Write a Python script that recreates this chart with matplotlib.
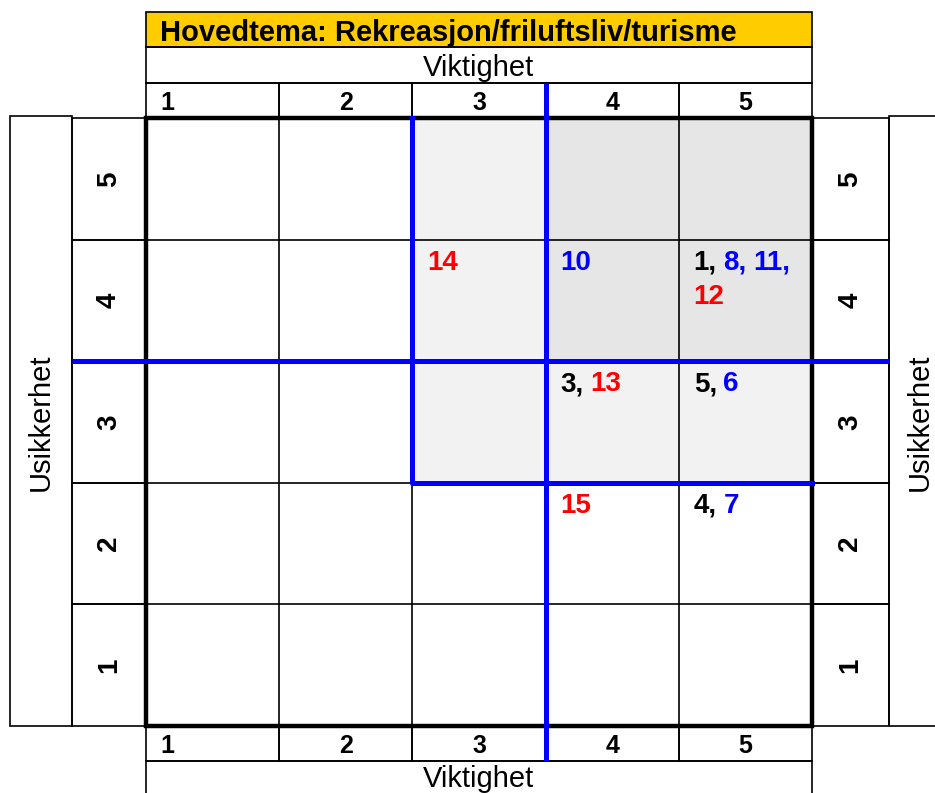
import matplotlib
matplotlib.use("Agg")
import matplotlib.pyplot as plt
from matplotlib.patches import Rectangle

plt.rcParams['font.family'] = ['Liberation Sans', 'DejaVu Sans']

# aksene: viktighet (x) og usikkerhet (y)
viktighet = [1, 2, 3, 4, 5]
usikkerhet = [1, 2, 3, 4, 5]
title = "Hovedtema: Rekreasjon/friluftsliv/turisme"
x_label = "Viktighet"
y_label = "Usikkerhet"

# nummererte elementer: id, viktighet, usikkerhet, farge
item_ids = [1, 8, 11, 12, 10, 14, 3, 13, 5, 6, 15, 4, 7]
item_vikt = [5, 5, 5, 5, 4, 3, 4, 4, 5, 5, 4, 5, 5]
item_usik = [4, 4, 4, 4, 4, 4, 3, 3, 3, 3, 2, 2, 2]
item_farge = ['black', 'blue', 'blue', 'red', 'blue', 'red', 'black', 'red',
              'black', 'blue', 'red', 'black', 'blue']

# skravert omraade (viktighet >= 3 og usikkerhet >= 3), morkere for >= 4
light_zone = (3, 3)
dark_zone = (4, 4)

YELLOW = '#FFCC00'
BLUE = '#0000FF'
thin, thick, blue_lw = 1.2, 3.2, 3.6

fig = plt.figure(figsize=(9.35, 7.93), dpi=100)
ax = fig.add_axes([0, 0, 1, 1])
ax.set_xlim(-0.596, 6.424)
ax.set_ylim(-0.051, 6.470)
ax.axis('off')

lo, hi = viktighet[0] - 0.5, viktighet[-1] + 0.5
ylo, yhi = usikkerhet[0] - 0.5, usikkerhet[-1] + 0.5

# hoyder paa topp-/bunnbaand og bredder paa sidekolonner
band = 0.29
side_num_l = 0.556
side_num_r = 0.578
side_lab = 0.465


def box(x0, y0, x1, y1, fc='none', lw=thin, z=3):
    ax.add_patch(Rectangle((x0, y0), x1 - x0, y1 - y0, facecolor=fc,
                           edgecolor='black', lw=lw, zorder=z, clip_on=False))


# fyll
lx, ly = light_zone
ax.add_patch(Rectangle((lx - 0.5, ly - 0.5), hi - (lx - 0.5), yhi - (ly - 0.5),
                       facecolor='#F2F2F2', edgecolor='none', zorder=1))
dx, dy = dark_zone
ax.add_patch(Rectangle((dx - 0.5, dy - 0.5), hi - (dx - 0.5), yhi - (dy - 0.5),
                       facecolor='#E6E6E6', edgecolor='none', zorder=1))

# tynne rutenett-linjer
for v in viktighet[:-1]:
    ax.plot([v + 0.5, v + 0.5], [ylo, yhi], color='black', lw=thin, zorder=2)
for u in usikkerhet[:-1]:
    ax.plot([lo, hi], [u + 0.5, u + 0.5], color='black', lw=thin, zorder=2)
box(lo, ylo, hi, yhi, lw=thick, z=4)

# topp: tittel, aksenavn, tall
box(lo, yhi + 2 * band, hi, yhi + 3 * band, fc=YELLOW)
ax.text(lo + 0.105, yhi + 2.5 * band, title, fontsize=21, fontweight='bold',
        ha='left', va='center_baseline', zorder=6)
box(lo, yhi + band, hi, yhi + 2 * band)
ax.text((lo + hi) / 2, yhi + 1.5 * band, x_label, fontsize=21,
        ha='center', va='center_baseline', zorder=6)

# bunn
box(lo, ylo - 3 * band, hi, ylo - band)
ax.text((lo + hi) / 2, ylo - 1.5 * band + 0.02, x_label, fontsize=21,
        ha='center', va='center_baseline', zorder=6)

for yb in [yhi, ylo - band]:
    for v in viktighet:
        box(v - 0.5, yb, v + 0.5, yb + band)
        if v == viktighet[0]:
            ax.text(v - 0.5 + 0.105, yb + band / 2, str(v), fontsize=18,
                    fontweight='bold', ha='left', va='center_baseline', zorder=6)
        else:
            ax.text(v, yb + band / 2, str(v), fontsize=18, fontweight='bold',
                    ha='center', va='center_baseline', zorder=6)

# sider
for x0, x1 in [(lo - side_num_l, lo), (hi, hi + side_num_r)]:
    for u in usikkerhet:
        box(x0, u - 0.5, x1, u + 0.5)
        ax.text((x0 + x1) / 2, u, str(u), fontsize=20, fontweight='bold',
                rotation=90, ha='center', va='center', zorder=6)
box(lo - side_num_l - side_lab, ylo, lo - side_num_l, yhi + 0.015)
box(hi + side_num_r, ylo, hi + side_num_r + 0.6, yhi + 0.015)
ax.text(lo - side_num_l - side_lab / 2, (ylo + yhi) / 2, y_label, fontsize=21,
        rotation=90, ha='center', va='center', zorder=6)
ax.text(hi + side_num_r + 0.233, (ylo + yhi) / 2, y_label, fontsize=21,
        rotation=90, ha='center', va='center', zorder=6)

# blaa linjer
ax.plot([3.5, 3.5], [ylo - band, yhi + band], color=BLUE, lw=blue_lw, zorder=7,
        solid_capstyle='butt', clip_on=False)
ax.plot([lo - side_num_l, hi + side_num_r], [3.5, 3.5], color=BLUE, lw=blue_lw,
        zorder=7, solid_capstyle='butt', clip_on=False)
ax.plot([lx - 0.5, lx - 0.5, hi], [yhi, ly - 0.5, ly - 0.5], color=BLUE,
        lw=blue_lw, zorder=7, solid_capstyle='projecting')

# tall i cellene, flerfarget og med komma
cells = {}
for i, v, u, c in zip(item_ids, item_vikt, item_usik, item_farge):
    cells.setdefault((v, u), []).append((i, c))

per_line = 3
for (v, u), items in cells.items():
    prev = None
    for k, (i, c) in enumerate(items):
        last = k == len(items) - 1
        s = str(i) if last else f"{i},"
        line, pos = divmod(k, per_line)
        if pos == 0:
            prev = ax.annotate(s, xy=(v - 0.5, u + 0.5), xycoords='data',
                               xytext=(10.8, -21.6 - 24.5 * line),
                               textcoords='offset points', fontsize=20,
                               fontweight='bold', color=c, ha='left',
                               va='baseline', zorder=8)
        else:
            prev = ax.annotate(s, xy=(1, 0), xycoords=prev,
                               xytext=(4.6, 0), textcoords='offset points',
                               fontsize=20, fontweight='bold', color=c,
                               ha='left', va='bottom', zorder=8)

fig.savefig("out.png", dpi=100)
